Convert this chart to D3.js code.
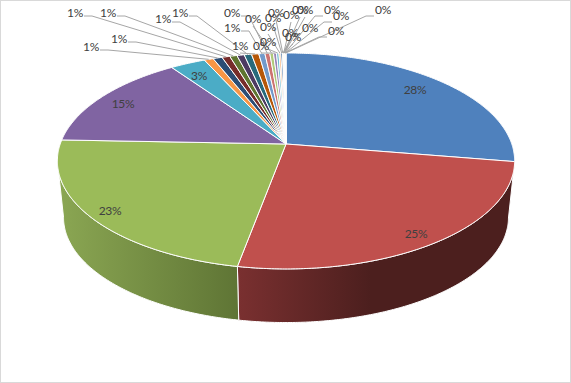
<!DOCTYPE html>
<html>
<head>
<meta charset="utf-8">
<script src="https://cdn.jsdelivr.net/npm/d3@7"></script>
<style>
    html, body { margin: 0; padding: 0; background: #fff; }
    svg { display: block; }
</style>
</head>
<body>
<div id="pie_chart"></div>
<script>
// share of each slice, in percent, clockwise from 12 o'clock
const slice_values = [27.6, 25.3, 22.7, 14.7, 2.9, 0.75, 0.75, 0.65, 0.6, 0.6, 0.6, 0.6, 0.5, 0.4, 0.3, 0.25, 0.2, 0.15,
    0.15, 0.025, 0.025, 0.025, 0.025, 0.025, 0.025, 0.025, 0.025, 0.025, 0.025, 0.025];

const slice_colors = ["#4F81BD", "#C0504D", "#9BBB59", "#8064A2", "#4BACC6", "#F79646",
    "#2C4D75", "#772C2A", "#5F7530", "#4D3B62", "#276A7C", "#B65708",
    "#729ACA", "#CD7371", "#AFC97A", "#9983B5", "#6FBDD1", "#F9AB6B",
    "#3A679C", "#9E3B38", "#7E9C40", "#664E82", "#358DA5", "#F37D0F",
    "#95B3D7", "#D99694", "#C3D69B", "#B2A1C7", "#93CDDD", "#FAC090"];

// hand placed labels, same order as the slices, [x, y] of label centre
const inside_label_pos = [[415, 89], [416, 233], [110, 210], [123, 103], [199, 75]];
const outside_label_pos = [[91, 46], [119, 38], [75, 12], [108, 12], [163, 18], [180, 12], [240, 45], [232, 27],
    [232, 12], [253, 18], [261, 45], [268, 41], [268, 26], [273, 17], [276, 12], [290, 32], [293, 36], [291, 14],
    [300, 9], [305, 9], [310, 27], [336, 30], [332, 9], [341, 15], [383, 9]];

const width = 571, height = 383;

// pie is tilted with perspective, so the apex is not at the centre of the rim ellipse
const pie_x = 286, pie_y = 144;
const radius_x = 225.8, radius_y = 105.3, tilt = 0.157;
const wall_scale = 0.973, wall_y = 201;

// side wall colours, stops along the x range of the wall
const wall_stops = {
    1: [[0, "#7A3030"], [0.48, "#4C1F1E"], [1, "#4C1F1E"]],
    2: [[0, "#8BA753"], [1, "#5F7535"]]
};

const svg = d3.select("#pie_chart")
    .append("svg")
    .attr("width", width)
    .attr("height", height);

svg.append("rect")
    .attr("x", 0.5).attr("y", 0.5)
    .attr("width", width - 1).attr("height", height - 1)
    .attr("fill", "#fff")
    .attr("stroke", "#d9d9d9");

const slices = d3.pie().sort(null).value(d => d)(slice_values);

function top_point(angle) {
    const u = Math.sin(angle), v = -Math.cos(angle);
    const w = 1 - tilt * v;
    return [pie_x + radius_x * u / w, pie_y + radius_y * v / w];
}

function bottom_point(angle) {
    const u = Math.sin(angle), v = -Math.cos(angle);
    const w = 1 - tilt * v;
    return [pie_x + wall_scale * radius_x * u / w, wall_y + wall_scale * radius_y * v / w];
}

function arc_angles(start, end) {
    const steps = Math.max(2, Math.ceil((end - start) / 0.01));
    return d3.range(steps + 1).map(i => start + (end - start) * i / steps);
}

const line = d3.line();

// WALLS
const defs = svg.append("defs");
const wall_g = svg.append("g");

slices.forEach((d, i) => {
    // only the part of the rim turned towards the viewer shows a wall
    const edge = Math.acos(-tilt);
    const start = Math.max(d.startAngle, edge), end = Math.min(d.endAngle, 2 * Math.PI - edge);
    if (end <= start || !wall_stops[i]) return;

    const angles = arc_angles(start, end);
    const upper = angles.map(a => top_point(a));
    const lower = angles.map(a => bottom_point(a)).reverse();
    const xs = upper.map(p => p[0]);

    const gradient = defs.append("linearGradient")
        .attr("id", "wall_" + i)
        .attr("gradientUnits", "userSpaceOnUse")
        .attr("x1", d3.min(xs)).attr("x2", d3.max(xs))
        .attr("y1", 0).attr("y2", 0);

    // stops run left to right on screen
    wall_stops[i].forEach(s => {
        gradient.append("stop").attr("offset", s[0]).attr("stop-color", s[1]);
    });

    wall_g.append("path")
        .attr("d", line(upper.concat(lower)) + "Z")
        .attr("fill", `url(#wall_${i})`)
        .attr("stroke", "#fff")
        .attr("stroke-width", 1);
});

// TOP FACE
svg.append("g").selectAll("path")
    .data(slices)
    .join("path")
    .attr("d", d => line([[pie_x, pie_y]].concat(arc_angles(d.startAngle, d.endAngle).map(a => top_point(a)))) + "Z")
    .attr("fill", (d, i) => slice_colors[i])
    .attr("stroke", "#fff")
    .attr("stroke-width", 1);

const percent = v => d3.format(".0f")(v) + "%";

// LEADERS
const small_slices = slices.slice(inside_label_pos.length);

svg.append("g").selectAll("path")
    .data(small_slices)
    .join("path")
    .attr("d", (d, i) => {
        const pos = outside_label_pos[i];
        const end = top_point((d.startAngle + d.endAngle) / 2);
        const text_half = 9, stub = 8;
        if (pos[0] + text_half + stub < end[0] - 5) {
            return line([[pos[0] + text_half, pos[1] + 4], [pos[0] + text_half + stub, pos[1] + 4], end]);
        }
        if (pos[0] - text_half - stub > end[0] + 5) {
            return line([[pos[0] - text_half, pos[1] + 7], [pos[0] - text_half - stub, pos[1] + 7], end]);
        }
        return line([[pos[0], pos[1] + 8], end]);
    })
    .attr("fill", "none")
    .attr("stroke", "#a6a6a6")
    .attr("stroke-width", 1);

// LABELS
const label_g = svg.append("g")
    .attr("font-family", "Lato, 'Open Sans', sans-serif")
    .attr("font-size", "12px")
    .attr("letter-spacing", "-0.3px")
    .attr("fill", "#404040")
    .attr("text-anchor", "middle")
    .attr("dominant-baseline", "central");

label_g.selectAll("text.inside")
    .data(slices.slice(0, inside_label_pos.length))
    .join("text")
    .attr("class", "inside")
    .attr("x", (d, i) => inside_label_pos[i][0])
    .attr("y", (d, i) => inside_label_pos[i][1])
    .text(d => percent(d.value));

label_g.selectAll("text.outside")
    .data(small_slices)
    .join("text")
    .attr("class", "outside")
    .attr("x", (d, i) => outside_label_pos[i][0])
    .attr("y", (d, i) => outside_label_pos[i][1])
    .text(d => percent(d.value));
</script>
</body>
</html>
